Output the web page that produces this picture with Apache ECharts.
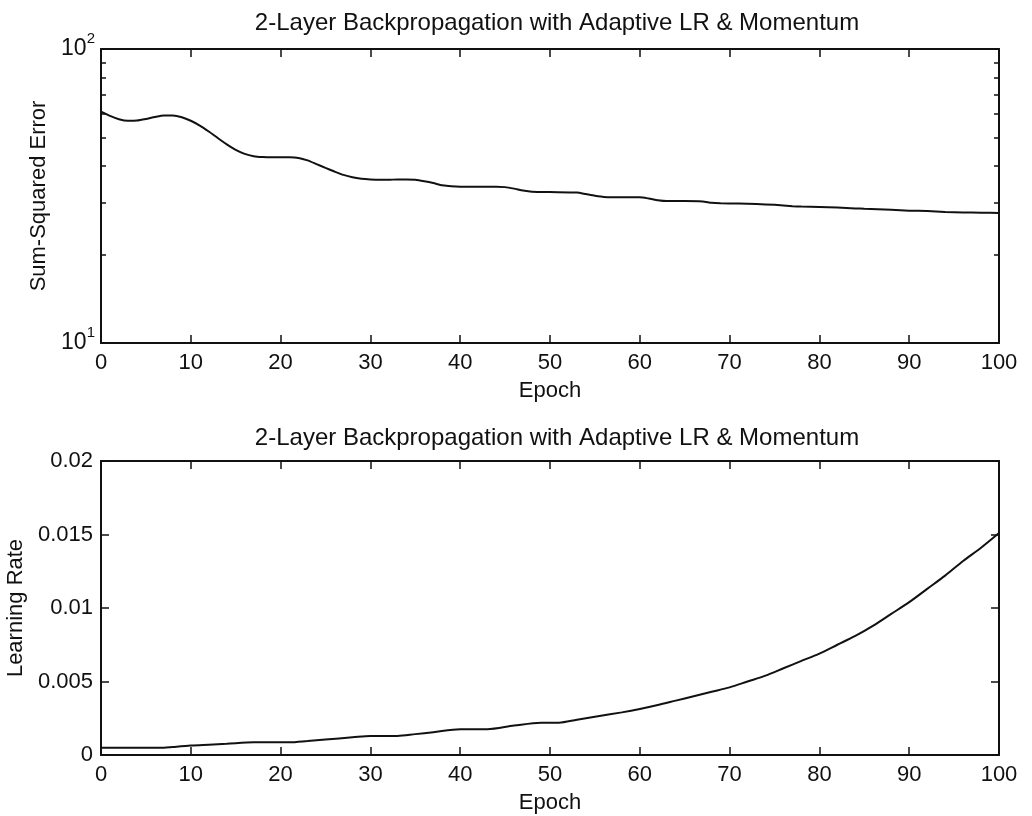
<!DOCTYPE html>
<html>
<head>
<meta charset="utf-8">
<title>2-Layer Backpropagation with Adaptive LR &amp; Momentum</title>
<script src="https://cdn.jsdelivr.net/npm/echarts@6/dist/echarts.min.js"></script>
<style>
  html, body { margin: 0; padding: 0; background: #ffffff; }
  #chart { width: 1032px; height: 816px; }
</style>
</head>
<body>
<div id="chart"></div>
<script>
// Training record: sum-squared error per epoch (log scale)
const sseEpochs = [0, 1, 2, 3, 4, 5, 6, 7, 8, 9, 10, 11, 12, 13, 14, 15, 16, 17, 18, 19, 20, 21, 22, 23, 24, 25, 26, 27, 28, 29, 30, 31, 32, 33, 34, 35, 36, 37, 38, 39, 40, 42, 44, 45, 46, 47, 48, 50, 53, 54, 55, 56, 58, 60, 61, 62, 63, 65, 67, 68, 69, 71, 73, 75, 77, 78, 80, 82, 84, 85, 88, 90, 92, 94, 96, 98, 100];
const sseValues = [61.2, 59.2, 57.7, 57.0, 57.1, 57.8, 58.7, 59.4, 59.4, 58.6, 57.0, 54.9, 52.4, 49.8, 47.4, 45.4, 44.0, 43.2, 42.9, 42.8, 42.8, 42.8, 42.6, 41.8, 40.6, 39.4, 38.3, 37.3, 36.6, 36.2, 36.0, 35.9, 35.9, 36.0, 36.0, 35.9, 35.5, 35.0, 34.4, 34.1, 34.0, 34.0, 34.0, 33.9, 33.5, 33.0, 32.7, 32.6, 32.5, 32.1, 31.7, 31.4, 31.3, 31.3, 31.0, 30.6, 30.4, 30.4, 30.3, 30.0, 29.9, 29.8, 29.7, 29.5, 29.2, 29.1, 29.0, 28.9, 28.7, 28.6, 28.4, 28.2, 28.1, 27.9, 27.8, 27.75, 27.7];

// Training record: adaptive learning rate per epoch
const lrEpochs = [0, 7, 8, 10, 12, 14, 17, 21, 23, 25, 28, 30, 33, 35, 37, 40, 43, 46, 49, 51, 53, 55, 58, 60, 62, 64, 66, 68, 70, 72, 74, 76, 78, 80, 82, 84, 86, 88, 90, 92, 94, 96, 98, 100];
const lrValues = [0.0005, 0.0005, 0.00055, 0.00064, 0.0007, 0.00076, 0.00086, 0.00086, 0.00095, 0.00105, 0.0012, 0.0013, 0.0013, 0.00142, 0.00155, 0.00175, 0.00175, 0.002, 0.0022, 0.0022, 0.0024, 0.0026, 0.0029, 0.00313, 0.0034, 0.0037, 0.004, 0.0043, 0.0046, 0.005, 0.0054, 0.0059, 0.0064, 0.0069, 0.0075, 0.0081, 0.0088, 0.0096, 0.0104, 0.0113, 0.0122, 0.0132, 0.0141, 0.0151];

// Axis ticks and labels
const epochTicks = { min: 0, max: 100, interval: 10 };
const sseLogTicks = [10, 20, 30, 40, 50, 60, 70, 80, 90, 100];
const sseLogLabels = [10, 100];
const lrTicks = { min: 0, max: 0.02, interval: 0.005 };

const titleText = '2-Layer Backpropagation with Adaptive LR & Momentum';
const xName = 'Epoch';
const sseName = 'Sum-Squared Error';
const lrName = 'Learning Rate';

const FONT = '"Liberation Sans", Arial, Helvetica, sans-serif';
const INK = '#111111';

function zip(xs, ys) {
  return xs.map((x, i) => [x, ys[i]]);
}

function boxLine() {
  return { show: true, onZero: false, lineStyle: { color: INK, width: 2 } };
}

function epochAxis(gridIndex, position, showLabels) {
  return {
    type: 'value',
    gridIndex: gridIndex,
    position: position,
    min: epochTicks.min,
    max: epochTicks.max,
    interval: epochTicks.interval,
    name: showLabels ? xName : '',
    nameLocation: 'middle',
    nameGap: 37,
    nameTextStyle: { fontFamily: FONT, fontSize: 22, color: INK },
    axisLine: boxLine(),
    axisTick: { show: true, inside: true, length: 8, lineStyle: { color: INK, width: 1.5 } },
    axisLabel: {
      show: showLabels, margin: 9, fontFamily: FONT, fontSize: 22, color: INK
    },
    splitLine: { show: false }
  };
}

function sseAxis(position, showLabels) {
  return {
    type: 'log',
    logBase: 10,
    gridIndex: 0,
    position: position,
    min: 10,
    max: 100,
    name: showLabels ? sseName : '',
    nameLocation: 'middle',
    nameGap: 41,
    nameTextStyle: { fontFamily: FONT, fontSize: 22, color: INK },
    axisLine: boxLine(),
    axisTick: {
      show: true, inside: true, length: 5, customValues: sseLogTicks,
      lineStyle: { color: INK, width: 1.5 }
    },
    axisLabel: {
      show: showLabels,
      customValues: sseLogLabels,
      margin: 6,
      formatter: function (v) {
        return '{b|10}{s|' + Math.round(Math.log10(v)) + '}';
      },
      rich: {
        b: { fontFamily: FONT, fontSize: 23, color: INK },
        s: { fontFamily: FONT, fontSize: 15, color: INK, padding: [0, 0, 20, 0] }
      }
    },
    splitLine: { show: false }
  };
}

function lrAxis(position, showLabels) {
  return {
    type: 'value',
    gridIndex: 1,
    position: position,
    min: lrTicks.min,
    max: lrTicks.max,
    interval: lrTicks.interval,
    name: showLabels ? lrName : '',
    nameLocation: 'middle',
    nameGap: 68,
    nameTextStyle: { fontFamily: FONT, fontSize: 22, color: INK },
    axisLine: boxLine(),
    axisTick: { show: true, inside: true, length: 8, lineStyle: { color: INK, width: 1.5 } },
    axisLabel: {
      show: showLabels, margin: 8, fontFamily: FONT, fontSize: 22, color: INK
    },
    splitLine: { show: false }
  };
}

const chart = echarts.init(document.getElementById('chart'), null, { renderer: 'canvas' });

chart.setOption({
  backgroundColor: '#ffffff',
  animation: false,
  title: [
    {
      text: titleText, left: 552, top: 6, textAlign: 'center',
      textStyle: { fontFamily: FONT, fontSize: 24, fontWeight: 'normal', color: INK }
    },
    {
      text: titleText, left: 552, top: 421, textAlign: 'center',
      textStyle: { fontFamily: FONT, fontSize: 24, fontWeight: 'normal', color: INK }
    }
  ],
  grid: [
    { left: 101, right: 33, top: 49, height: 294, containLabel: false, outerBoundsMode: 'none' },
    { left: 101, right: 33, top: 461, height: 294, containLabel: false, outerBoundsMode: 'none' }
  ],
  xAxis: [
    epochAxis(0, 'bottom', true),
    epochAxis(0, 'top', false),
    epochAxis(1, 'bottom', true),
    epochAxis(1, 'top', false)
  ],
  yAxis: [
    sseAxis('left', true),
    sseAxis('right', false),
    lrAxis('left', true),
    lrAxis('right', false)
  ],
  series: [
    {
      type: 'line',
      xAxisIndex: 0,
      yAxisIndex: 0,
      data: zip(sseEpochs, sseValues),
      showSymbol: false,
      smooth: 0.2,
      lineStyle: { color: INK, width: 2 }
    },
    {
      type: 'line',
      xAxisIndex: 2,
      yAxisIndex: 2,
      data: zip(lrEpochs, lrValues),
      showSymbol: false,
      smooth: 0.3,
      lineStyle: { color: INK, width: 2 }
    }
  ]
});
</script>
</body>
</html>
